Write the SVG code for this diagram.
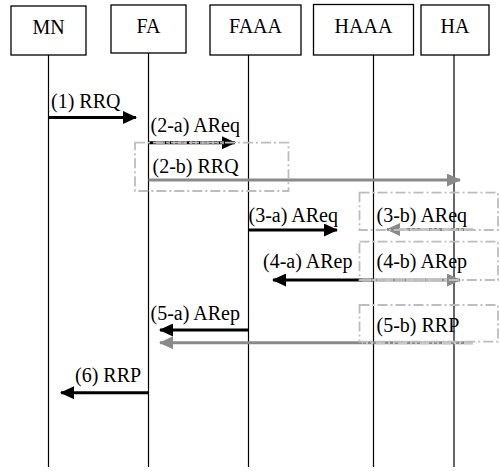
<svg xmlns="http://www.w3.org/2000/svg" width="500" height="471" viewBox="0 0 500 471" font-family="'Liberation Serif', 'Times New Roman', 'DejaVu Serif', serif">
<defs>
<style>
.box{fill:#fff;stroke:#000;stroke-width:1.3}
.life{stroke:#000;stroke-width:1.2}
text{font-family:'Liberation Serif','Times New Roman','DejaVu Serif',serif;font-size:20px;fill:#000}
.nm{text-anchor:middle}
.blk{stroke:#000;stroke-width:3;fill:none}
.gry{stroke:#8a8a8a;stroke-width:3;fill:none}
.ovl{stroke:#c8c8c8;stroke-width:3;fill:none;stroke-dasharray:9 3 2 3 2 3}
.ovlb{stroke:#9a9a9a;stroke-width:3;fill:none;stroke-dasharray:9 3 2 3 2 3}
.frame{fill:none;stroke:#bdbdbd;stroke-width:1.8;stroke-dasharray:10 3 2 3}
</style>
<marker id="ab" markerUnits="userSpaceOnUse" markerWidth="14" markerHeight="13" refX="13" refY="6.5" orient="auto">
<path d="M0,0 L14,6.5 L0,13 Z" fill="#000"/>
</marker>
<marker id="ag" markerUnits="userSpaceOnUse" markerWidth="14" markerHeight="13" refX="13" refY="6.5" orient="auto">
<path d="M0,0 L14,6.5 L0,13 Z" fill="#8a8a8a"/>
</marker>
</defs>
<rect width="500" height="471" fill="#fff"/>

<g id="MN">
<rect class="box" x="11" y="6" width="75" height="49"/>
<line class="life" x1="48.5" y1="55" x2="48.5" y2="467"/>
<text class="nm" x="48.5" y="34">MN</text>
</g>
<g id="FA">
<rect class="box" x="111" y="5" width="75" height="48"/>
<line class="life" x1="148.5" y1="53" x2="148.5" y2="467"/>
<text class="nm" x="148.5" y="33">FA</text>
</g>
<g id="FAAA">
<rect class="box" x="210" y="5" width="91" height="50"/>
<line class="life" x1="248.5" y1="55" x2="248.5" y2="467"/>
<text class="nm" x="255.5" y="33">FAAA</text>
</g>
<g id="HAAA">
<rect class="box" x="313.5" y="4.5" width="100" height="50.5"/>
<line class="life" x1="373.5" y1="55" x2="373.5" y2="467"/>
<text class="nm" x="363.5" y="33">HAAA</text>
</g>
<g id="HA">
<rect class="box" x="421" y="5" width="68" height="50"/>
<line class="life" x1="454" y1="55" x2="454" y2="467"/>
<text class="nm" x="455" y="33">HA</text>
</g>

<g id="connectors">
<line class="blk" x1="48.5" y1="117.5" x2="136" y2="117.5" marker-end="url(#ab)"/>
<text x="51" y="108">(1) RRQ</text>

<line class="blk" x1="148.5" y1="142.7" x2="235" y2="142.7" marker-end="url(#ab)"/>
<line class="ovlb" x1="156" y1="142.7" x2="224" y2="142.7"/>
<text x="150.5" y="132">(2-a) AReq</text>

<line class="gry" x1="148.5" y1="180" x2="460" y2="180" marker-end="url(#ag)"/>
<text x="152.5" y="173">(2-b) RRQ</text>
<rect class="frame" x="135" y="142.7" width="153.5" height="48.3"/>

<line class="blk" x1="248.5" y1="230" x2="337" y2="230" marker-end="url(#ab)"/>
<text x="248.5" y="222">(3-a) AReq</text>

<line class="gry" x1="473" y1="229.5" x2="387" y2="229.5" marker-end="url(#ag)"/>
<line class="ovl" x1="473" y1="229.5" x2="399" y2="229.5"/>
<text x="376.5" y="222">(3-b) AReq</text>
<rect class="frame" x="359.5" y="192.7" width="138.5" height="37.3"/>

<line class="blk" x1="373.5" y1="280" x2="273" y2="280" marker-end="url(#ab)"/>
<text x="263" y="268">(4-a) ARep</text>

<line class="gry" x1="362" y1="280" x2="460" y2="280" marker-end="url(#ag)"/>
<line class="ovl" x1="362" y1="280" x2="448" y2="280"/>
<text x="376.5" y="268">(4-b) ARep</text>
<rect class="frame" x="359.5" y="241.7" width="138.5" height="38.3"/>

<line class="blk" x1="248.5" y1="330" x2="160" y2="330" marker-end="url(#ab)"/>
<text x="150.5" y="320">(5-a) ARep</text>

<line class="gry" x1="473" y1="342.7" x2="160" y2="342.7" marker-end="url(#ag)"/>
<line class="ovl" x1="473" y1="342.7" x2="362" y2="342.7"/>
<text x="376.5" y="332">(5-b) RRP</text>
<rect class="frame" x="359.5" y="305" width="138.5" height="36.7"/>

<line class="blk" x1="148.5" y1="392.7" x2="61" y2="392.7" marker-end="url(#ab)"/>
<text x="75" y="382">(6) RRP</text>
</g>
</svg>
